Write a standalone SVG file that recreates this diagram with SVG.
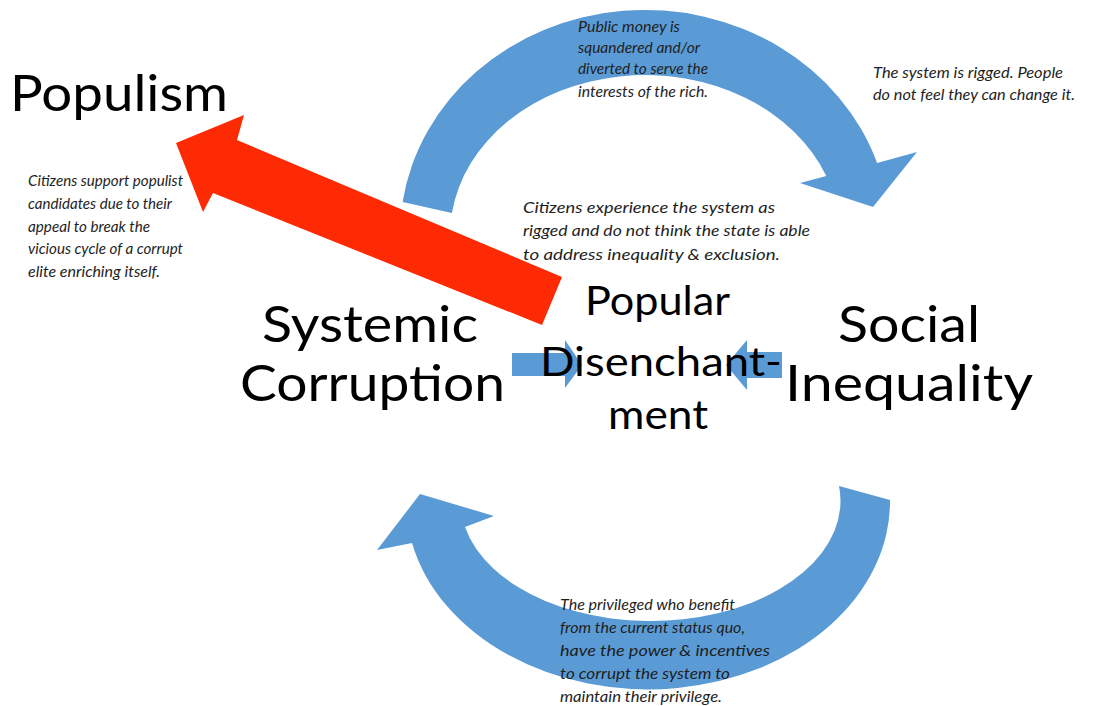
<svg xmlns="http://www.w3.org/2000/svg" width="1106" height="706" viewBox="0 0 1106 706">
<style>
.blue{fill:#5B9BD5}
.red{fill:#FE2A04}
.big{font-family:Lato,"Liberation Sans",sans-serif;fill:#000}
.note{font-family:Lato,"Liberation Sans",sans-serif;font-style:italic;font-size:15px;fill:#1e1e1e}
</style>
<rect width="1106" height="706" fill="#fff"/>
<g id="connectors">
  <path id="arc-top" class="blue" d="M402.6,202 A245,225 0 0 1 877.1,163 L917,152 L873,207 L800,183 L826.3,176 A195,160 0 0 0 451.9,213 Z"/>
  <path id="arc-bottom" class="blue" d="M890,500 A242,188 0 0 1 412,543 L377,550 L420,494 L494,516 L465,527 A190,120 0 0 0 839,486 Z"/>
  <polygon id="arrow-left" class="blue" points="512,353 565,353 565,340 582,365 565,388 565,376 512,376"/>
  <polygon id="arrow-right" class="blue" points="782,352 747,352 747,340 726,365 747,390 747,378 782,378"/>
  <polygon id="arrow-populism" class="red" points="562,277 237,140 244,115 176,143 203,212 213,193 542,325"/>
</g>
<g id="notes">
  <text class="note" x="578" y="32" textLength="102" lengthAdjust="spacingAndGlyphs">Public money is</text>
  <text class="note" x="578" y="53" textLength="122" lengthAdjust="spacingAndGlyphs">squandered and/or</text>
  <text class="note" x="578" y="74" textLength="130" lengthAdjust="spacingAndGlyphs">diverted to serve the</text>
  <text class="note" x="578" y="97" textLength="130" lengthAdjust="spacingAndGlyphs">interests of the rich.</text>
  <text class="note" x="873" y="78" textLength="190" lengthAdjust="spacingAndGlyphs">The system is rigged. People</text>
  <text class="note" x="873" y="100" textLength="202" lengthAdjust="spacingAndGlyphs">do not feel they can change it.</text>
  <text class="note" x="28" y="186" textLength="155" lengthAdjust="spacingAndGlyphs">Citizens support populist</text>
  <text class="note" x="28" y="209" textLength="144" lengthAdjust="spacingAndGlyphs">candidates due to their</text>
  <text class="note" x="28" y="232" textLength="122" lengthAdjust="spacingAndGlyphs">appeal to break the</text>
  <text class="note" x="28" y="254" textLength="155" lengthAdjust="spacingAndGlyphs">vicious cycle of a corrupt</text>
  <text class="note" x="28" y="277" textLength="132" lengthAdjust="spacingAndGlyphs">elite enriching itself.</text>
  <text class="note" x="523" y="213" textLength="252" lengthAdjust="spacingAndGlyphs">Citizens experience the system as</text>
  <text class="note" x="523" y="236" textLength="287" lengthAdjust="spacingAndGlyphs">rigged and do not think the state is able</text>
  <text class="note" x="523" y="260" textLength="257" lengthAdjust="spacingAndGlyphs">to address inequality &amp; exclusion.</text>
  <text class="note" x="560" y="610" textLength="175" lengthAdjust="spacingAndGlyphs">The privileged who benefit</text>
  <text class="note" x="560" y="633" textLength="185" lengthAdjust="spacingAndGlyphs">from the current status quo,</text>
  <text class="note" x="560" y="656" textLength="210" lengthAdjust="spacingAndGlyphs">have the power &amp; incentives</text>
  <text class="note" x="560" y="679" textLength="170" lengthAdjust="spacingAndGlyphs">to corrupt the system to</text>
  <text class="note" x="560" y="702" textLength="162" lengthAdjust="spacingAndGlyphs">maintain their privilege.</text>
</g>
<g id="populism">
  <text class="big" x="10" y="111" font-size="50" textLength="218" lengthAdjust="spacingAndGlyphs">Populism</text>
</g>
<g id="systemic-corruption">
  <text class="big" x="262" y="342" font-size="50" textLength="216" lengthAdjust="spacingAndGlyphs">Systemic</text>
  <text class="big" x="240" y="401" font-size="50" textLength="265" lengthAdjust="spacingAndGlyphs">Corruption</text>
</g>
<g id="social-inequality">
  <text class="big" x="838" y="342" font-size="50" textLength="142" lengthAdjust="spacingAndGlyphs">Social</text>
  <text class="big" x="785" y="401" font-size="50" textLength="248" lengthAdjust="spacingAndGlyphs">Inequality</text>
</g>
<g id="popular-disenchantment">
  <text class="big" x="585" y="315" font-size="40" textLength="145" lengthAdjust="spacingAndGlyphs">Popular</text>
  <text class="big" x="540" y="376" font-size="40" textLength="242" lengthAdjust="spacingAndGlyphs">Disenchant-</text>
  <text class="big" x="608" y="429" font-size="40" textLength="100" lengthAdjust="spacingAndGlyphs">ment</text>
</g>
</svg>
